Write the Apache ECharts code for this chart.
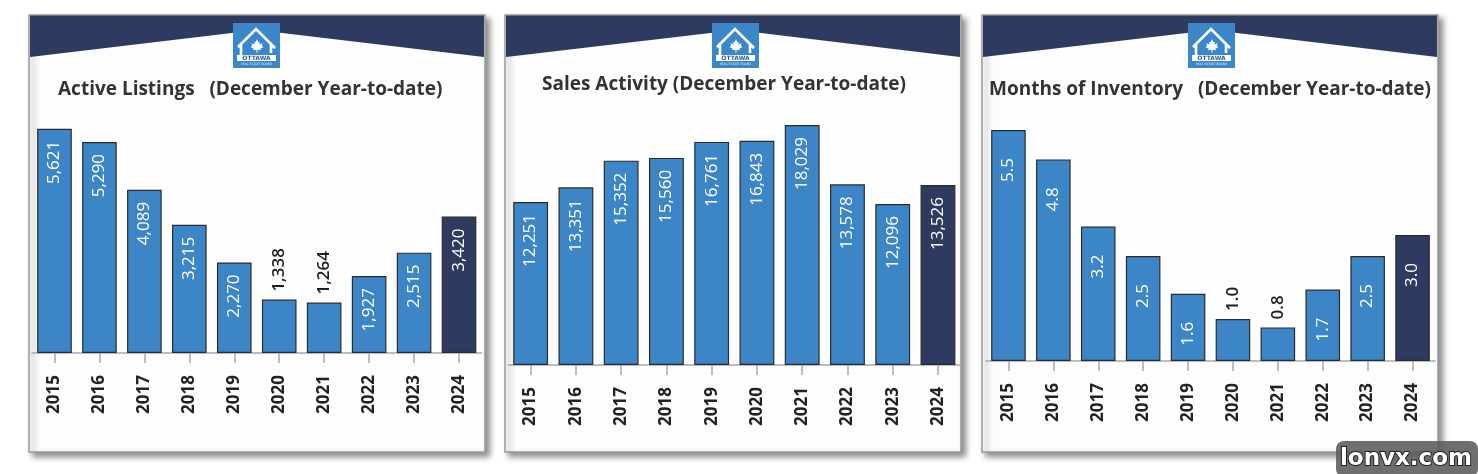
<!DOCTYPE html>
<html>
<head>
<meta charset="utf-8">
<script src="https://cdn.jsdelivr.net/npm/echarts@6/dist/echarts.min.js"></script>
<style>
html,body{margin:0;padding:0;background:#ffffff;}
#c{width:1478px;height:474px;}
</style>
</head>
<body>
<div id="c"></div>
<script>
// ---- data ----
const years = ['2015','2016','2017','2018','2019','2020','2021','2022','2023','2024'];
const activeListings = [5621,5290,4089,3215,2270,1338,1264,1927,2515,3420];
const salesActivity = [12251,13351,15352,15560,16761,16843,18029,13578,12096,13526];
const monthsInventory = [5.5,4.8,3.2,2.5,1.6,1.0,0.8,1.7,2.5,3.0];
const titleTexts = [
  'Active Listings   (December Year-to-date)',
  'Sales Activity (December Year-to-date)',
  'Months of Inventory   (December Year-to-date)'
];
const yMax = [6000, 20000, 6];

// ---- styling / layout ----
const BLUE = '#3c86c7';
const NAVY = '#2f3a60';
const panels = [
  {x0:29,  x1:485,  logoX:233,  titleX:58,   titleY:90, grid:{left:32, width:449.5, top:113.6, height:239.4}, labelDist:12},
  {x0:505, x1:961,  logoX:712,  titleX:542,  titleY:85, grid:{left:508, width:452.6, top:98.8, height:266.2}, labelDist:12},
  {x0:982, x1:1438, logoX:1188, titleX:989,  titleY:90, grid:{left:986, width:449, top:109, height:252}, labelDist:28}
];
const seriesData = [activeListings, salesActivity, monthsInventory];
const fmt = [
  v => v.toLocaleString('en-US'),
  v => v.toLocaleString('en-US'),
  v => v.toFixed(1)
];

function leafPath(cx, cy, s) {
  const pts = [[0,-7],[1.5,-4],[3,-4.5],[2.5,-1.5],[6,-3],[5,0],[7,1],[3.5,3],[4,4.5],[0.5,4],[0.5,7],[-0.5,7],[-0.5,4],[-4,4.5],[-3.5,3],[-7,1],[-5,0],[-6,-3],[-2.5,-1.5],[-3,-4.5],[-1.5,-4]];
  return pts.map(p => [cx + p[0]*s, cy + p[1]*s]);
}

const graphics = [];
panels.forEach((p, i) => {
  graphics.push({type:'rect', z:-10, shape:{x:p.x0, y:15, width:p.x1-p.x0, height:437},
    style:{fill:'#fdfdfd', stroke:'#9a9a9a', lineWidth:1.5, shadowBlur:6, shadowOffsetX:4, shadowOffsetY:4, shadowColor:'rgba(0,0,0,0.45)'}});
  const cx = p.logoX + 24;
  graphics.push({type:'polygon', z:-9, shape:{points:[[p.x0+1,15.5],[p.x1-1,15.5],[p.x1-1,57],[cx,30],[p.x0+1,57]]},
    style:{fill:NAVY}});
  const lx = p.logoX, ly = 23;
  graphics.push({type:'rect', z:-8, shape:{x:lx, y:ly, width:47, height:45}, style:{fill:'#3b87c9'}});
  graphics.push({type:'polyline', z:-7, shape:{points:[[lx+8,ly+37],[lx+8,ly+22],[lx+5,ly+24],[lx+23,ly+6],[lx+42,ly+25],[lx+38,ly+22],[lx+38,ly+30]]},
    style:{stroke:'#ffffff', lineWidth:2.6, fill:null}});
  graphics.push({type:'polygon', z:-7, shape:{points:leafPath(lx+24, ly+23, 0.95)}, style:{fill:'#ffffff'}});
  graphics.push({type:'rect', z:-7, shape:{x:lx+4, y:ly+32, width:39, height:6}, style:{fill:'#ffffff'}});
  graphics.push({type:'text', z:-6, style:{x:lx+23.5, y:ly+35, text:'OTTAWA', fill:'#2f5f9a', font:'bold 6px "DejaVu Sans"', textAlign:'center', textVerticalAlign:'middle'}});
  graphics.push({type:'text', z:-6, style:{x:lx+23.5, y:ly+41, text:'REAL ESTATE BOARD', fill:'#dfeaf6', font:'3px "DejaVu Sans"', textAlign:'center', textVerticalAlign:'middle'}});
  graphics.push({type:'text', z:-5, style:{x:p.titleX, y:p.titleY, text:titleTexts[i], fill:'#333333',
    font:'bold 19px "Open Sans"', textAlign:'left', textVerticalAlign:'middle'}});
});
graphics.push({type:'rect', z:50, shape:{x:1336, y:441, width:142, height:36, r:8}, style:{fill:'rgba(95,95,95,0.9)'}});
graphics.push({type:'text', z:51, style:{x:1406, y:459, text:'lonvx.com', fill:'#ffffff', stroke:'#222', lineWidth:2,
  font:'bold 23px "DejaVu Sans"', textAlign:'center', textVerticalAlign:'middle'}});

const grids = panels.map(p => Object.assign({containLabel:false}, p.grid));
const xAxes = panels.map((p, i) => ({
  type:'category', gridIndex:i, data:years, boundaryGap:true,
  axisLine:{lineStyle:{color:'#a8a8a8', width:1.5}},
  axisTick:{show:true, alignWithLabel:true, length:10, lineStyle:{color:'#a8a8a8', width:1.5}},
  axisLabel:{rotate:90, margin:22, color:'#222222', fontSize:17, fontWeight:'bold', fontFamily:'"Open Sans"', interval:0}
}));
const yAxes = panels.map((p, i) => ({type:'value', gridIndex:i, min:0, max:yMax[i], show:false, splitLine:{show:false}}));

const series = seriesData.map((vals, i) => ({
  type:'bar', xAxisIndex:i, yAxisIndex:i, barWidth:'77%',
  data: vals.map((v, j) => {
    const outside = v / yMax[i] < 0.25;
    return {
      value: v,
      itemStyle:{color: j === vals.length - 1 ? NAVY : BLUE, borderColor:'#2b2b2b', borderWidth:1.2},
      label: outside
        ? {show:true, position:'top', rotate:90, align:'left', verticalAlign:'middle', distance:8, color:'#1e1e1e', fontWeight:600}
        : {show:true, position:'insideTop', rotate:90, align:'right', verticalAlign:'middle', distance:panels[i].labelDist, color:'#ffffff'}
    };
  }),
  label:{show:true, fontSize:17, fontWeight:500, fontFamily:'"Open Sans"', formatter: prm => fmt[i](prm.value)}
}));

const chart = echarts.init(document.getElementById('c'), null, {renderer:'canvas'});
chart.setOption({
  animation:false,
  backgroundColor:'#ffffff',
  graphic: graphics,
  grid: grids,
  xAxis: xAxes,
  yAxis: yAxes,
  series: series
});
</script>
</body>
</html>
